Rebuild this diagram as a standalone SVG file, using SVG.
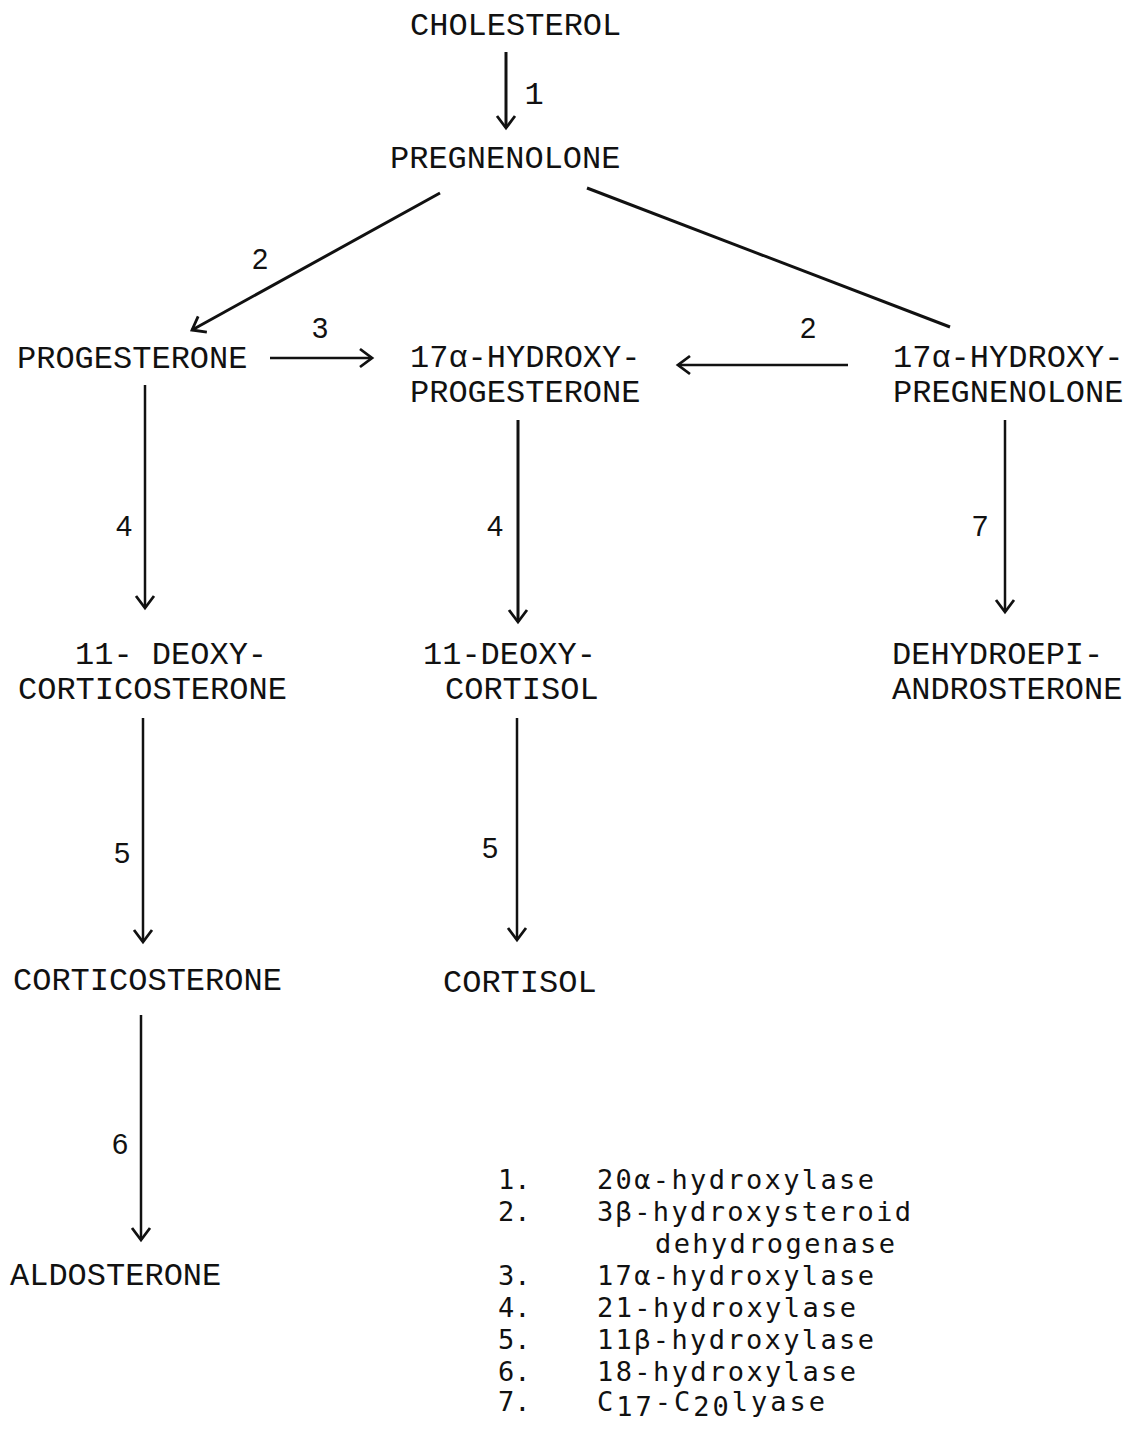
<svg xmlns="http://www.w3.org/2000/svg" width="1131" height="1429" viewBox="0 0 1131 1429">
<defs>
<style>
.n{font-family:"Liberation Mono","Courier New",monospace;font-size:32px;fill:#111}
.l{font-family:"Liberation Sans",Arial,sans-serif;font-size:29px;fill:#111;text-anchor:middle}
.lm{font-family:"Liberation Mono",monospace;font-size:32px;fill:#111;text-anchor:middle}
.g{font-family:"DejaVu Sans Mono",monospace;font-size:27px;fill:#111}
.c{stroke:#111;stroke-width:2.5;fill:none}
.d{stroke:#111;stroke-width:3;fill:none}
</style>
<marker id="ah" markerUnits="userSpaceOnUse" markerWidth="30" markerHeight="30" refX="15" refY="15" orient="auto" overflow="visible">
<path d="M3,6 L15,15 L3,24" stroke="#111" stroke-width="2.8" fill="none"/>
</marker>
</defs>
<rect width="1131" height="1429" fill="#fff"/>

<g id="connectors">
<line class="d" x1="506" y1="52" x2="506" y2="128" marker-end="url(#ah)"/>
<line class="d" x1="440" y1="193" x2="192" y2="330" marker-end="url(#ah)"/>
<line class="d" x1="587" y1="188" x2="950" y2="327"/>
<line class="c" x1="270" y1="358" x2="372" y2="358" marker-end="url(#ah)"/>
<line class="c" x1="848" y1="365" x2="678" y2="365" marker-end="url(#ah)"/>
<line class="c" x1="145" y1="385" x2="145" y2="608" marker-end="url(#ah)"/>
<line class="d" x1="518" y1="420" x2="518" y2="622" marker-end="url(#ah)"/>
<line class="c" x1="1005" y1="420" x2="1005" y2="612" marker-end="url(#ah)"/>
<line class="c" x1="143" y1="718" x2="143" y2="942" marker-end="url(#ah)"/>
<line class="c" x1="517" y1="718" x2="517" y2="940" marker-end="url(#ah)"/>
<line class="c" x1="141" y1="1015" x2="141" y2="1240" marker-end="url(#ah)"/>
<text class="lm" x="534" y="104">1</text>
<text class="l" x="260" y="269">2</text>
<text class="l" x="320" y="338">3</text>
<text class="l" x="808" y="338">2</text>
<text class="l" x="124" y="536">4</text>
<text class="l" x="495" y="536">4</text>
<text class="l" x="980" y="536">7</text>
<text class="l" x="122" y="863">5</text>
<text class="l" x="490" y="858">5</text>
<text class="l" x="120" y="1154">6</text>
</g>

<g id="cholesterol"><text class="n" x="410" y="35">CHOLESTEROL</text></g>
<g id="pregnenolone"><text class="n" x="390" y="168">PREGNENOLONE</text></g>
<g id="progesterone"><text class="n" x="17" y="368">PROGESTERONE</text></g>
<g id="hydroxyprogesterone"><text class="n" x="410" y="367">17α-HYDROXY-</text><text class="n" x="410" y="402">PROGESTERONE</text></g>
<g id="hydroxypregnenolone"><text class="n" x="893" y="367">17α-HYDROXY-</text><text class="n" x="893" y="402">PREGNENOLONE</text></g>
<g id="deoxycorticosterone"><text class="n" x="75" y="664">11- DEOXY-</text><text class="n" x="18" y="699">CORTICOSTERONE</text></g>
<g id="deoxycortisol"><text class="n" x="423" y="664">11-DEOXY-</text><text class="n" x="445" y="699">CORTISOL</text></g>
<g id="dhea"><text class="n" x="892" y="664">DEHYDROEPI-</text><text class="n" x="892" y="699">ANDROSTERONE</text></g>
<g id="corticosterone"><text class="n" x="13" y="990">CORTICOSTERONE</text></g>
<g id="cortisol"><text class="n" x="443" y="992">CORTISOL</text></g>
<g id="aldosterone"><text class="n" x="10" y="1285">ALDOSTERONE</text></g>

<g id="legend">
<text class="g" x="498" y="1189">1.</text><text class="g" x="597" y="1189" textLength="277" lengthAdjust="spacing">20α-hydroxylase</text>
<text class="g" x="498" y="1221">2.</text><text class="g" x="597" y="1221" textLength="314" lengthAdjust="spacing">3β-hydroxysteroid</text>
<text class="g" x="655" y="1253" textLength="240" lengthAdjust="spacing">dehydrogenase</text>
<text class="g" x="498" y="1285">3.</text><text class="g" x="597" y="1285" textLength="277" lengthAdjust="spacing">17α-hydroxylase</text>
<text class="g" x="498" y="1317">4.</text><text class="g" x="597" y="1317" textLength="259" lengthAdjust="spacing">21-hydroxylase</text>
<text class="g" x="498" y="1349">5.</text><text class="g" x="597" y="1349" textLength="277" lengthAdjust="spacing">11β-hydroxylase</text>
<text class="g" x="498" y="1381">6.</text><text class="g" x="597" y="1381" textLength="259" lengthAdjust="spacing">18-hydroxylase</text>
<text class="g" x="498" y="1411">7.</text><text class="g" x="597" y="1411" textLength="228" lengthAdjust="spacing">C<tspan dy="5">17</tspan><tspan dy="-5">-C</tspan><tspan dy="5">20</tspan><tspan dy="-5">lyase</tspan></text>
</g>
</svg>
